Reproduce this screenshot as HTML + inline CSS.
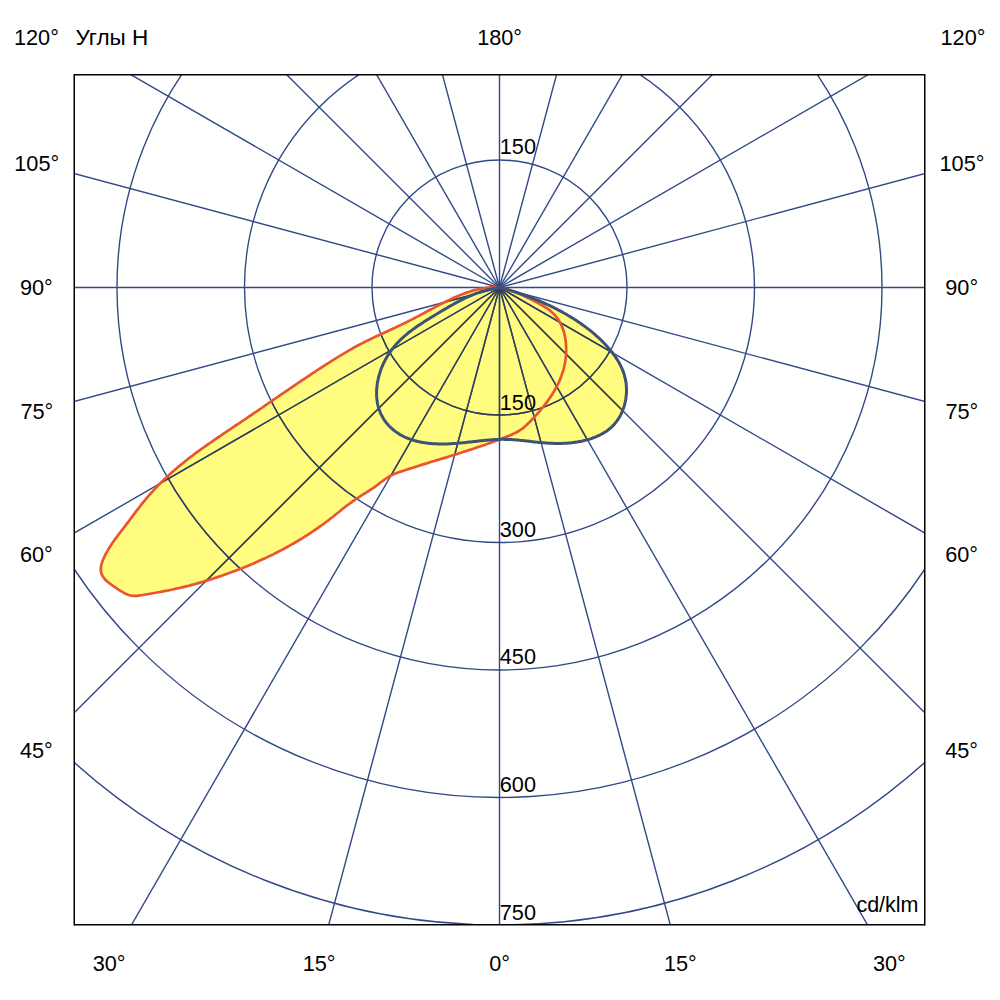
<!DOCTYPE html>
<html><head><meta charset="utf-8"><style>
html,body{margin:0;padding:0;background:#fff;width:1000px;height:1000px;overflow:hidden}
svg{display:block}
text{font-family:"Liberation Sans",sans-serif;font-size:21.7px;fill:#000}
</style></head><body>
<svg width="1000" height="1000" viewBox="0 0 1000 1000">
<defs><clipPath id="c"><rect x="74.5" y="74.5" width="850" height="850"/></clipPath>
<path id="rp" d="M499.5 287.5L496.6 287.3L493.6 287.3L490.7 287.4L487.8 287.7L484.9 288.0L482.1 288.5L479.2 289.0L476.4 289.7L473.6 290.4L470.8 291.3L468.0 292.2L465.2 293.1L462.4 294.2L459.7 295.3L457.0 296.4L454.3 297.6L451.6 298.8L448.9 300.1L446.3 301.4L443.6 302.7L441.0 304.0L438.4 305.3L435.8 306.7L433.2 308.1L430.7 309.5L428.1 310.8L425.5 312.2L422.9 313.6L420.4 315.0L417.8 316.4L415.2 317.7L412.6 319.1L410.0 320.4L407.4 321.8L404.8 323.1L402.2 324.3L399.6 325.6L396.9 326.8L394.3 328.1L391.6 329.3L388.9 330.5L386.3 331.7L383.6 333.0L380.9 334.2L378.3 335.4L375.6 336.6L373.0 337.9L370.3 339.2L367.7 340.4L365.1 341.7L362.5 343.1L359.9 344.4L357.3 345.8L354.7 347.2L352.2 348.7L349.6 350.1L347.1 351.6L344.6 353.1L342.0 354.6L339.5 356.1L337.0 357.6L334.6 359.2L332.1 360.7L329.6 362.3L327.1 363.9L324.7 365.4L322.2 367.0L319.7 368.6L317.3 370.2L314.8 371.8L312.4 373.4L310.0 375.1L307.5 376.7L305.1 378.3L302.7 379.9L300.2 381.6L297.8 383.2L295.4 384.8L293.0 386.5L290.5 388.1L288.1 389.8L285.7 391.4L283.3 393.1L280.9 394.7L278.5 396.4L276.1 398.0L273.6 399.7L271.2 401.3L268.8 403.0L266.4 404.7L264.0 406.3L261.6 408.0L259.2 409.6L256.8 411.3L254.3 412.9L251.9 414.6L249.5 416.2L247.1 417.9L244.7 419.5L242.2 421.2L239.8 422.8L237.4 424.4L234.9 426.0L232.5 427.7L230.1 429.3L227.6 430.9L225.2 432.6L222.8 434.2L220.4 435.9L217.9 437.5L215.5 439.1L213.1 440.8L210.7 442.5L208.3 444.1L205.9 445.8L203.5 447.5L201.2 449.2L198.8 450.9L196.4 452.7L194.1 454.4L191.8 456.2L189.4 457.9L187.1 459.7L184.9 461.6L182.6 463.4L180.3 465.2L178.1 467.1L175.8 469.0L173.6 470.9L171.5 472.8L169.3 474.8L167.1 476.8L165.0 478.8L162.9 480.8L160.8 482.8L158.7 484.9L156.7 487.0L154.7 489.1L152.7 491.3L150.7 493.5L148.8 495.7L146.9 497.9L145.0 500.1L143.1 502.4L141.3 504.7L139.5 507.0L137.7 509.4L135.9 511.7L134.1 514.1L132.4 516.4L130.6 518.7L128.9 521.1L127.1 523.4L125.4 525.7L123.6 528.0L121.9 530.2L120.1 532.5L118.4 534.8L116.7 537.1L114.9 539.4L113.3 541.8L111.6 544.2L110.0 546.7L108.4 549.3L106.9 551.9L105.4 554.7L104.0 557.5L102.8 560.3L101.8 563.2L101.1 566.0L100.8 568.8L100.9 571.4L101.5 573.9L102.7 576.3L104.3 578.5L106.2 580.6L108.5 582.5L110.9 584.4L113.4 586.1L116.0 587.9L118.5 589.6L121.0 591.2L123.6 592.7L126.1 594.0L128.7 595.0L131.4 595.7L134.2 595.9L137.0 595.8L139.9 595.4L142.7 595.0L145.6 594.5L148.5 594.0L151.4 593.5L154.3 593.0L157.2 592.5L160.1 592.0L163.0 591.4L165.9 590.8L168.8 590.3L171.7 589.7L174.5 589.0L177.4 588.4L180.3 587.8L183.1 587.1L186.0 586.4L188.8 585.7L191.7 584.9L194.5 584.2L197.3 583.4L200.1 582.6L202.9 581.8L205.7 580.9L208.5 580.1L211.3 579.2L214.1 578.3L216.8 577.4L219.6 576.4L222.4 575.5L225.1 574.5L227.9 573.5L230.6 572.5L233.4 571.5L236.1 570.5L238.8 569.4L241.6 568.4L244.3 567.3L247.0 566.2L249.7 565.0L252.4 563.9L255.1 562.7L257.8 561.5L260.4 560.3L263.1 559.1L265.8 557.9L268.4 556.6L271.1 555.4L273.7 554.1L276.3 552.7L278.9 551.4L281.5 550.1L284.1 548.7L286.7 547.3L289.2 545.9L291.8 544.4L294.3 543.0L296.8 541.5L299.4 540.0L301.9 538.5L304.3 536.9L306.8 535.4L309.3 533.8L311.7 532.2L314.1 530.5L316.6 528.9L318.9 527.2L321.3 525.5L323.7 523.8L326.0 522.0L328.4 520.3L330.7 518.5L333.0 516.7L335.3 514.8L337.6 513.0L339.8 511.2L342.1 509.3L344.4 507.5L346.7 505.7L349.1 504.0L351.4 502.3L353.8 500.6L356.2 498.9L358.7 497.3L361.2 495.7L363.6 494.2L366.1 492.6L368.6 491.0L371.0 489.4L373.5 487.8L375.8 486.1L378.2 484.3L380.5 482.5L382.8 480.8L385.2 479.1L387.6 477.5L390.0 476.0L392.6 474.7L395.3 473.6L398.0 472.6L400.8 471.6L403.6 470.7L406.3 469.8L409.1 468.9L411.9 468.0L414.7 467.1L417.5 466.2L420.3 465.3L423.1 464.4L425.9 463.6L428.7 462.7L431.5 461.8L434.3 461.0L437.1 460.1L439.9 459.3L442.7 458.4L445.5 457.6L448.3 456.7L451.1 455.8L453.9 455.0L456.7 454.1L459.5 453.2L462.3 452.3L465.0 451.4L467.8 450.5L470.6 449.6L473.4 448.7L476.1 447.7L478.9 446.8L481.7 445.9L484.4 444.9L487.2 443.9L489.9 442.9L492.7 441.9L495.5 440.9L498.2 439.9L501.0 438.9L503.7 437.8L506.5 436.8L509.2 435.7L511.9 434.5L514.5 433.3L517.1 432.0L519.6 430.5L522.0 428.9L524.3 427.1L526.5 425.1L528.6 423.1L530.6 421.0L532.7 418.8L534.7 416.7L536.7 414.5L538.6 412.3L540.6 410.0L542.4 407.8L544.3 405.5L546.1 403.1L547.8 400.8L549.5 398.4L551.1 396.0L552.7 393.5L554.2 391.0L555.6 388.5L557.0 386.0L558.3 383.4L559.5 380.7L560.6 378.1L561.6 375.4L562.5 372.6L563.4 369.8L564.1 367.0L564.7 364.1L565.3 361.2L565.7 358.2L566.0 355.2L566.1 352.2L566.2 349.2L566.1 346.2L565.9 343.3L565.6 340.3L565.1 337.4L564.5 334.5L563.8 331.7L562.9 328.9L561.8 326.3L560.6 323.7L559.2 321.2L557.7 318.8L556.0 316.5L554.1 314.4L552.1 312.4L549.9 310.5L547.6 308.7L545.1 307.1L542.5 305.5L539.9 304.1L537.3 302.6L534.6 301.3L531.9 299.9L529.2 298.6L526.6 297.3L524.0 296.0L521.4 294.8L518.8 293.5L516.2 292.4L513.6 291.3L510.9 290.3L508.2 289.4L505.4 288.7L502.5 288.0L499.5 287.5Z"/><path id="bp" d="M499.5 287.5L497.8 287.7L496.2 288.0L494.5 288.3L492.9 288.6L491.3 288.9L489.7 289.3L488.1 289.7L486.5 290.1L484.9 290.6L483.3 291.0L481.8 291.5L480.2 292.0L478.7 292.6L477.1 293.1L475.6 293.7L474.1 294.3L472.6 294.9L471.1 295.5L469.6 296.1L468.1 296.8L466.6 297.5L465.1 298.2L463.6 298.9L462.2 299.6L460.7 300.3L459.3 301.1L457.8 301.8L456.4 302.6L454.9 303.4L453.5 304.2L452.1 305.0L450.6 305.8L449.2 306.6L447.8 307.4L446.4 308.3L444.9 309.1L443.5 309.9L442.1 310.8L440.7 311.6L439.3 312.5L437.9 313.3L436.5 314.2L435.0 315.0L433.6 315.9L432.2 316.8L430.8 317.6L429.4 318.5L428.0 319.4L426.6 320.2L425.2 321.1L423.8 322.0L422.4 322.9L421.1 323.8L419.7 324.7L418.3 325.6L417.0 326.5L415.6 327.5L414.3 328.4L413.0 329.4L411.7 330.4L410.4 331.3L409.1 332.3L407.8 333.3L406.6 334.4L405.3 335.4L404.1 336.5L402.9 337.6L401.7 338.7L400.5 339.8L399.4 340.9L398.3 342.1L397.1 343.2L396.0 344.4L395.0 345.6L393.9 346.9L392.9 348.2L391.9 349.5L390.9 350.8L390.0 352.1L389.1 353.5L388.2 354.9L387.3 356.3L386.5 357.7L385.6 359.2L384.9 360.7L384.1 362.2L383.4 363.7L382.7 365.2L382.0 366.8L381.4 368.3L380.8 369.9L380.3 371.5L379.8 373.1L379.3 374.7L378.8 376.3L378.4 377.9L378.1 379.6L377.7 381.2L377.4 382.8L377.2 384.5L377.0 386.1L376.8 387.7L376.7 389.4L376.6 391.0L376.6 392.6L376.6 394.2L376.6 395.9L376.7 397.5L376.9 399.1L377.1 400.7L377.3 402.2L377.6 403.8L377.9 405.4L378.3 406.9L378.8 408.4L379.3 409.9L379.8 411.4L380.4 412.9L381.1 414.3L381.8 415.7L382.5 417.1L383.3 418.5L384.2 419.9L385.1 421.2L386.1 422.5L387.2 423.7L388.2 425.0L389.4 426.2L390.5 427.3L391.7 428.5L393.0 429.5L394.3 430.6L395.6 431.6L397.0 432.6L398.4 433.5L399.8 434.4L401.2 435.2L402.7 436.0L404.2 436.8L405.7 437.5L407.2 438.1L408.8 438.7L410.3 439.3L411.9 439.8L413.5 440.3L415.1 440.8L416.7 441.2L418.3 441.6L420.0 441.9L421.6 442.2L423.2 442.5L424.8 442.8L426.5 443.0L428.1 443.2L429.7 443.4L431.4 443.5L433.0 443.7L434.6 443.8L436.2 443.8L437.9 443.9L439.5 443.9L441.1 444.0L442.8 444.0L444.4 443.9L446.0 443.9L447.7 443.9L449.3 443.8L451.0 443.7L452.6 443.6L454.2 443.5L455.9 443.4L457.5 443.3L459.1 443.1L460.8 443.0L462.4 442.8L464.0 442.7L465.7 442.5L467.3 442.3L468.9 442.1L470.6 442.0L472.2 441.8L473.8 441.6L475.5 441.4L477.1 441.2L478.7 441.0L480.4 440.8L482.0 440.7L483.6 440.5L485.3 440.3L486.9 440.2L488.5 440.0L490.1 439.9L491.8 439.8L493.4 439.7L495.0 439.6L496.7 439.5L498.3 439.4L499.9 439.4L501.5 439.3L503.2 439.3L504.8 439.4L506.4 439.4L508.1 439.4L509.7 439.5L511.3 439.6L513.0 439.7L514.6 439.8L516.2 440.0L517.9 440.1L519.5 440.3L521.1 440.4L522.8 440.6L524.4 440.8L526.0 441.0L527.7 441.1L529.3 441.3L530.9 441.5L532.6 441.7L534.2 441.9L535.9 442.1L537.5 442.2L539.1 442.4L540.8 442.5L542.4 442.7L544.1 442.8L545.7 442.9L547.3 443.1L549.0 443.2L550.6 443.2L552.3 443.3L553.9 443.4L555.5 443.4L557.2 443.4L558.8 443.4L560.4 443.4L562.1 443.4L563.7 443.3L565.4 443.2L567.0 443.2L568.6 443.0L570.2 442.9L571.9 442.7L573.5 442.5L575.1 442.3L576.8 442.1L578.4 441.8L580.0 441.5L581.6 441.2L583.2 440.8L584.8 440.4L586.5 440.0L588.1 439.6L589.7 439.1L591.2 438.6L592.8 438.0L594.4 437.4L595.9 436.8L597.4 436.1L599.0 435.5L600.4 434.7L601.9 433.9L603.3 433.1L604.7 432.3L606.1 431.4L607.4 430.5L608.7 429.5L609.9 428.5L611.2 427.4L612.3 426.3L613.5 425.2L614.5 424.0L615.6 422.7L616.6 421.4L617.5 420.1L618.4 418.8L619.3 417.4L620.1 416.0L620.8 414.6L621.5 413.1L622.2 411.6L622.8 410.1L623.4 408.5L623.9 407.0L624.4 405.4L624.8 403.8L625.2 402.2L625.5 400.6L625.8 398.9L626.0 397.3L626.2 395.7L626.4 394.0L626.5 392.4L626.5 390.7L626.5 389.0L626.4 387.4L626.3 385.7L626.2 384.1L626.0 382.5L625.7 380.9L625.4 379.2L625.0 377.7L624.6 376.1L624.2 374.5L623.7 373.0L623.1 371.4L622.5 369.9L621.9 368.4L621.2 366.9L620.5 365.5L619.8 364.0L619.0 362.6L618.2 361.2L617.3 359.8L616.4 358.4L615.5 357.0L614.6 355.7L613.6 354.3L612.6 353.0L611.6 351.7L610.6 350.4L609.5 349.1L608.4 347.9L607.3 346.6L606.2 345.4L605.1 344.2L603.9 343.0L602.8 341.8L601.6 340.7L600.4 339.5L599.3 338.4L598.1 337.3L596.8 336.2L595.6 335.1L594.4 334.0L593.1 333.0L591.9 331.9L590.6 330.9L589.3 329.9L588.0 328.9L586.7 327.9L585.4 326.9L584.1 325.9L582.8 325.0L581.5 324.0L580.1 323.1L578.8 322.2L577.4 321.2L576.0 320.3L574.7 319.5L573.3 318.6L571.9 317.7L570.5 316.9L569.1 316.0L567.7 315.2L566.3 314.3L564.8 313.5L563.4 312.7L562.0 311.9L560.5 311.1L559.1 310.4L557.6 309.6L556.2 308.8L554.7 308.1L553.2 307.3L551.8 306.6L550.3 305.9L548.8 305.2L547.3 304.5L545.8 303.8L544.3 303.1L542.8 302.5L541.3 301.8L539.8 301.1L538.3 300.5L536.7 299.9L535.2 299.3L533.7 298.6L532.1 298.0L530.6 297.4L529.1 296.9L527.5 296.3L526.0 295.7L524.4 295.2L522.9 294.6L521.4 294.1L519.8 293.6L518.2 293.0L516.7 292.5L515.1 292.0L513.6 291.5L512.0 291.1L510.4 290.6L508.9 290.1L507.3 289.7L505.8 289.2L504.2 288.8L502.6 288.3L501.1 287.9L499.5 287.5Z"/>
<clipPath id="y"><use href="#rp"/><use href="#bp"/></clipPath>
<g id="grid">
<circle cx="499.5" cy="287.5" r="127.5"/>
<circle cx="499.5" cy="287.5" r="255"/>
<circle cx="499.5" cy="287.5" r="382.5"/>
<circle cx="499.5" cy="287.5" r="510"/>
<circle cx="499.5" cy="287.5" r="637.5"/>
<line x1="499.5" y1="287.5" x2="499.50" y2="1487.50"/>
<line x1="499.5" y1="287.5" x2="810.08" y2="1446.61"/>
<line x1="499.5" y1="287.5" x2="1099.50" y2="1326.73"/>
<line x1="499.5" y1="287.5" x2="1348.03" y2="1136.03"/>
<line x1="499.5" y1="287.5" x2="1538.73" y2="887.50"/>
<line x1="499.5" y1="287.5" x2="1658.61" y2="598.08"/>
<line x1="499.5" y1="287.5" x2="1699.50" y2="287.50"/>
<line x1="499.5" y1="287.5" x2="1658.61" y2="-23.08"/>
<line x1="499.5" y1="287.5" x2="1538.73" y2="-312.50"/>
<line x1="499.5" y1="287.5" x2="1348.03" y2="-561.03"/>
<line x1="499.5" y1="287.5" x2="1099.50" y2="-751.73"/>
<line x1="499.5" y1="287.5" x2="810.08" y2="-871.61"/>
<line x1="499.5" y1="287.5" x2="499.50" y2="-912.50"/>
<line x1="499.5" y1="287.5" x2="188.92" y2="-871.61"/>
<line x1="499.5" y1="287.5" x2="-100.50" y2="-751.73"/>
<line x1="499.5" y1="287.5" x2="-349.03" y2="-561.03"/>
<line x1="499.5" y1="287.5" x2="-539.73" y2="-312.50"/>
<line x1="499.5" y1="287.5" x2="-659.61" y2="-23.08"/>
<line x1="499.5" y1="287.5" x2="-700.50" y2="287.50"/>
<line x1="499.5" y1="287.5" x2="-659.61" y2="598.08"/>
<line x1="499.5" y1="287.5" x2="-539.73" y2="887.50"/>
<line x1="499.5" y1="287.5" x2="-349.03" y2="1136.03"/>
<line x1="499.5" y1="287.5" x2="-100.50" y2="1326.73"/>
<line x1="499.5" y1="287.5" x2="188.92" y2="1446.61"/>
</g></defs>
<rect width="1000" height="1000" fill="#fff"/>
<g clip-path="url(#c)">
<use href="#rp" fill="#fffc80"/>
<use href="#bp" fill="#fffc80"/>
<use href="#grid" fill="none" stroke="#314a85" stroke-width="1.4"/>
<g clip-path="url(#y)"><use href="#grid" fill="none" stroke="#333f55" stroke-width="1.4"/></g>
<use href="#rp" fill="none" stroke="#e8552e" stroke-width="2.7" stroke-linejoin="round"/>
<use href="#bp" fill="none" stroke="#3e5275" stroke-width="3" stroke-linejoin="round"/>
</g>
<path d="M74.25 74.7H924.75M74.25 924.7H924.75" stroke="#000" stroke-width="1.4" fill="none"/><path d="M74.25 74H74.25V925.4M924.75 74V925.4" stroke="#000" stroke-width="1.5" fill="none"/>
<text x="36.4" y="45.1" text-anchor="middle">120°</text>
<text x="75.5" y="45.1" style="font-size:22.5px">Углы Н</text>
<text x="499.6" y="45.1" text-anchor="middle">180°</text>
<text x="963" y="45.1" text-anchor="middle">120°</text>
<text x="36.7" y="170.7" text-anchor="middle">105°</text>
<text x="962" y="170.7" text-anchor="middle">105°</text>
<text x="36.4" y="294.7" text-anchor="middle">90°</text>
<text x="961.7" y="294.7" text-anchor="middle">90°</text>
<text x="36.8" y="419.3" text-anchor="middle">75°</text>
<text x="961.9" y="419.3" text-anchor="middle">75°</text>
<text x="36.4" y="562.1" text-anchor="middle">60°</text>
<text x="961.6" y="562.1" text-anchor="middle">60°</text>
<text x="36.4" y="758" text-anchor="middle">45°</text>
<text x="961.6" y="758" text-anchor="middle">45°</text>
<text x="109.1" y="970.8" text-anchor="middle">30°</text>
<text x="319.1" y="970.8" text-anchor="middle">15°</text>
<text x="499.5" y="970.8" text-anchor="middle">0°</text>
<text x="680.4" y="970.8" text-anchor="middle">15°</text>
<text x="889.4" y="970.8" text-anchor="middle">30°</text>
<text x="499.8" y="154.3" text-anchor="start">150</text>
<text x="499.8" y="410" text-anchor="start">150</text>
<text x="499.8" y="537.3" text-anchor="start">300</text>
<text x="499.8" y="664.2" text-anchor="start">450</text>
<text x="499.8" y="792" text-anchor="start">600</text>
<text x="499.8" y="920" text-anchor="start">750</text>
<text x="918.5" y="911.7" text-anchor="end" style="font-size:21.5px">cd/klm</text>
</svg>
</body></html>
